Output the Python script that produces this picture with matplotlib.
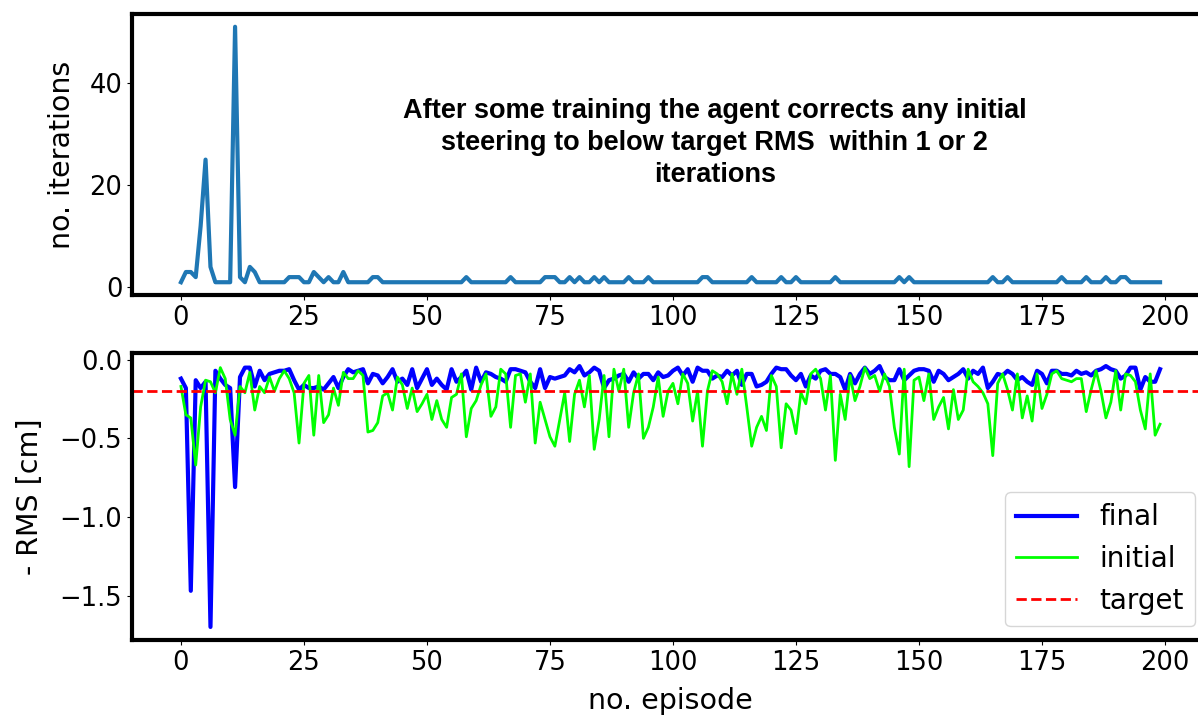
import numpy as np
import matplotlib
matplotlib.use('Agg')
import matplotlib.pyplot as plt

plt.rc('font', size=18)
plt.rc('axes', linewidth=3, labelsize=20.5)
plt.rc('xtick', labelsize=18.5)
plt.rc('ytick', labelsize=18.5)
plt.rc('legend', fontsize=20)

# number of steering iterations needed per episode
iterations = [
    1, 3, 3, 2, 12, 25, 4, 1, 1, 1, 1, 51, 2, 1, 4, 3, 1, 1, 1, 1,
    1, 1, 2, 2, 2, 1, 1, 3, 2, 1, 2, 1, 1, 3, 1, 1, 1, 1, 1, 2,
    2, 1, 1, 1, 1, 1, 1, 1, 1, 1, 1, 1, 1, 1, 1, 1, 1, 1, 2, 1,
    1, 1, 1, 1, 1, 1, 1, 2, 1, 1, 1, 1, 1, 1, 2, 2, 2, 1, 1, 2,
    1, 2, 1, 1, 2, 1, 2, 1, 1, 1, 1, 2, 1, 1, 1, 2, 1, 1, 1, 1,
    1, 1, 1, 1, 1, 1, 2, 2, 1, 1, 1, 1, 1, 1, 1, 1, 2, 1, 1, 1,
    1, 1, 2, 1, 1, 2, 1, 1, 1, 1, 1, 1, 1, 2, 1, 1, 1, 1, 1, 1,
    1, 1, 1, 1, 1, 1, 2, 1, 2, 1, 1, 1, 1, 1, 1, 1, 1, 1, 1, 1,
    1, 1, 1, 1, 1, 2, 1, 1, 2, 1, 1, 1, 1, 1, 1, 1, 1, 1, 1, 2,
    1, 1, 1, 1, 2, 1, 1, 1, 2, 1, 1, 2, 2, 1, 1, 1, 1, 1, 1, 1,
]

# - RMS after correction
final_rms = [
    -0.12, -0.18, -1.47, -0.13, -0.18, -0.14, -1.70, -0.07, -0.12, -0.16,
    -0.18, -0.81, -0.11, -0.05, -0.05, -0.17, -0.07, -0.13, -0.09, -0.08,
    -0.07, -0.07, -0.06, -0.13, -0.19, -0.16, -0.18, -0.18, -0.17, -0.19,
    -0.15, -0.11, -0.18, -0.11, -0.06, -0.08, -0.07, -0.06, -0.15, -0.09,
    -0.10, -0.15, -0.11, -0.06, -0.14, -0.12, -0.16, -0.06, -0.18, -0.12,
    -0.06, -0.16, -0.12, -0.16, -0.19, -0.06, -0.14, -0.11, -0.07, -0.19,
    -0.05, -0.14, -0.08, -0.09, -0.11, -0.12, -0.14, -0.06, -0.06, -0.07,
    -0.08, -0.14, -0.18, -0.06, -0.18, -0.11, -0.12, -0.11, -0.10, -0.06,
    -0.08, -0.04, -0.10, -0.08, -0.05, -0.07, -0.18, -0.13, -0.12, -0.10,
    -0.09, -0.14, -0.08, -0.12, -0.09, -0.09, -0.13, -0.08, -0.11, -0.10,
    -0.07, -0.05, -0.10, -0.06, -0.14, -0.05, -0.07, -0.07, -0.12, -0.10,
    -0.11, -0.07, -0.10, -0.07, -0.16, -0.09, -0.09, -0.17, -0.16, -0.14,
    -0.09, -0.05, -0.06, -0.06, -0.10, -0.13, -0.09, -0.17, -0.10, -0.12,
    -0.07, -0.06, -0.09, -0.09, -0.11, -0.19, -0.09, -0.15, -0.09, -0.05,
    -0.09, -0.07, -0.04, -0.11, -0.13, -0.13, -0.06, -0.13, -0.10, -0.07,
    -0.06, -0.06, -0.07, -0.14, -0.07, -0.09, -0.13, -0.11, -0.09, -0.06,
    -0.12, -0.07, -0.09, -0.05, -0.18, -0.14, -0.09, -0.10, -0.07, -0.09,
    -0.13, -0.11, -0.14, -0.16, -0.07, -0.09, -0.15, -0.07, -0.07, -0.09,
    -0.09, -0.10, -0.07, -0.09, -0.08, -0.10, -0.07, -0.06, -0.04, -0.06,
    -0.07, -0.12, -0.10, -0.05, -0.05, -0.19, -0.11, -0.14, -0.14, -0.06,
]

# - RMS before correction
initial_rms = [
    -0.17, -0.35, -0.37, -0.67, -0.30, -0.13, -0.14, -0.21, -0.05, -0.12,
    -0.38, -0.48, -0.17, -0.21, -0.08, -0.32, -0.17, -0.21, -0.11, -0.20,
    -0.12, -0.07, -0.12, -0.21, -0.53, -0.15, -0.10, -0.48, -0.10, -0.40,
    -0.35, -0.18, -0.29, -0.08, -0.12, -0.12, -0.07, -0.10, -0.46, -0.45,
    -0.40, -0.23, -0.21, -0.32, -0.11, -0.16, -0.31, -0.18, -0.33, -0.28,
    -0.22, -0.38, -0.26, -0.38, -0.43, -0.24, -0.22, -0.09, -0.49, -0.31,
    -0.26, -0.16, -0.09, -0.36, -0.30, -0.06, -0.09, -0.43, -0.10, -0.09,
    -0.27, -0.09, -0.53, -0.27, -0.38, -0.49, -0.55, -0.38, -0.21, -0.52,
    -0.22, -0.13, -0.30, -0.10, -0.57, -0.38, -0.10, -0.49, -0.06, -0.20,
    -0.06, -0.43, -0.21, -0.09, -0.50, -0.43, -0.30, -0.11, -0.36, -0.20,
    -0.15, -0.28, -0.09, -0.15, -0.39, -0.20, -0.55, -0.20, -0.07, -0.09,
    -0.14, -0.28, -0.09, -0.22, -0.06, -0.30, -0.55, -0.43, -0.36, -0.45,
    -0.10, -0.17, -0.56, -0.28, -0.32, -0.47, -0.21, -0.28, -0.09, -0.06,
    -0.12, -0.32, -0.10, -0.64, -0.22, -0.38, -0.10, -0.26, -0.17, -0.05,
    -0.12, -0.10, -0.20, -0.09, -0.17, -0.43, -0.60, -0.06, -0.68, -0.13,
    -0.11, -0.26, -0.09, -0.38, -0.30, -0.24, -0.44, -0.19, -0.38, -0.32,
    -0.06, -0.14, -0.17, -0.21, -0.28, -0.61, -0.15, -0.09, -0.19, -0.32,
    -0.09, -0.37, -0.23, -0.39, -0.09, -0.31, -0.22, -0.09, -0.07, -0.12,
    -0.13, -0.14, -0.12, -0.12, -0.33, -0.19, -0.07, -0.20, -0.37, -0.27,
    -0.07, -0.32, -0.09, -0.10, -0.14, -0.32, -0.44, -0.09, -0.48, -0.41,
]

target_rms = -0.2
episodes = np.arange(len(iterations))

fig = plt.figure(figsize=(11.98, 7.18), dpi=100)
# axes reach a bit past the right edge, like the original crop
ax1 = fig.add_axes([132 / 1198, 1 - 295 / 718, (1209 - 132) / 1198, (295 - 14) / 718])
ax2 = fig.add_axes([132 / 1198, 1 - 640 / 718, (1209 - 132) / 1198, (640 - 353) / 718])

ax1.plot(episodes, iterations, color='#1f77b4', lw=3)
ax1.set_ylabel('no. iterations', labelpad=10)
ax1.set_xticks(np.arange(0, 201, 25))
ax1.text(108.5, 28.3, 'After some training the agent corrects any initial\n'
         'steering to below target RMS  within 1 or 2\niterations',
         ha='center', va='center', multialignment='center', linespacing=1.3,
         fontsize=19.5, fontweight='bold', family='Liberation Sans')

ax2.plot(episodes, final_rms, color='blue', lw=3, label='final')
ax2.plot(episodes, initial_rms, color='lime', lw=2, label='initial')
ax2.axhline(target_rms, color='red', ls='--', lw=2, label='target')
ax2.set_xticks(np.arange(0, 201, 25))
ax2.set_xlabel('no. episode', labelpad=8)
ax2.set_ylabel('- RMS [cm]', labelpad=11)
ax2.legend(loc='lower right', handlelength=2.2)

fig.savefig('out.png', dpi=100)
